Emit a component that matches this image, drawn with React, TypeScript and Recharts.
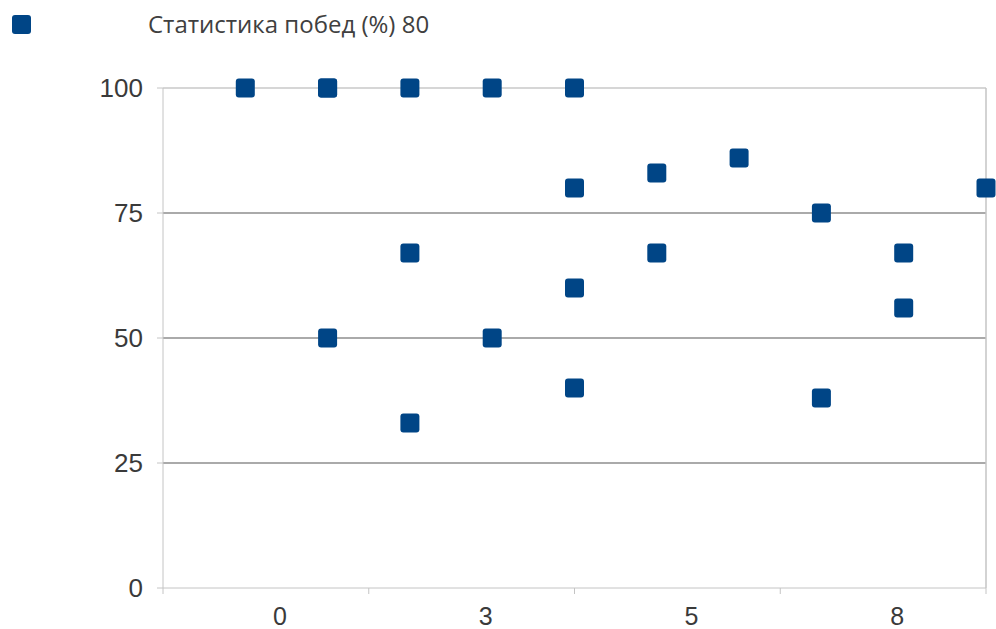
import React from 'react'
import {
  CartesianGrid,
  Legend,
  ReferenceLine,
  Scatter,
  ScatterChart,
  XAxis,
  YAxis
} from 'recharts'

const seriesName = 'Статистика побед (%) 80'

// x position of every point (match number) and its win rate
const xValues = [1, 2, 2, 2, 3, 3, 3, 4, 4, 5, 5, 5, 5, 6, 6, 7, 8, 8, 9, 9, 10]
const yValues = [100, 100, 100, 50, 100, 67, 33, 100, 50, 100, 80, 60, 40, 83, 67, 86, 75, 38, 67, 56, 80]

const xTicks = [0, 2.5, 5, 7.5, 10]
const yTicks = [0, 25, 50, 75, 100]

const points = xValues.map((x, i) => ({ x, y: yValues[i] }))

const color = '#004586'

const SquareDot = (props: any) => {
  const { cx, cy } = props
  return <rect x={cx - 9.5} y={cy - 9.5} width={19} height={19} rx={3} fill={color} />
}

const XTick = (props: any) => {
  const { x, y, payload } = props
  if (payload.value === 10) return null
  return (
    <text
      x={x + 117}
      y={y + 29}
      textAnchor='middle'
      fill='#3a3a3a'
      fontSize={25}
      fontFamily='Liberation Sans, Arial, sans-serif'>
      {Math.round(payload.value)}
    </text>
  )
}

const LegendContent = () => (
  <div style={{ position: 'relative', height: 40 }}>
    <div
      style={{
        position: 'absolute',
        left: 12,
        top: 15,
        width: 19,
        height: 19,
        borderRadius: 3,
        background: color
      }}
    />
    <span
      style={{
        position: 'absolute',
        left: 148,
        top: 8,
        fontFamily: 'Open Sans, sans-serif',
        fontSize: 24,
        lineHeight: '32px',
        color: '#404040',
        whiteSpace: 'nowrap'
      }}>
      {seriesName}
    </span>
  </div>
)

const App = () => {
  return (
    <div style={{ position: 'absolute', left: 0, top: 0 }}>
      <ScatterChart
        width={996}
        height={629}
        margin={{ top: 48, right: 10, bottom: 0, left: 0 }}>
        <CartesianGrid
          vertical={false}
          horizontalValues={[25, 50, 75]}
          stroke='#aaaaaa'
          strokeWidth={2}
        />
        <ReferenceLine y={100} stroke='#d6d6d6' strokeWidth={2} />
        <ReferenceLine x={10} stroke='#c4c4c4' strokeWidth={1.5} />
        <XAxis
          type='number'
          dataKey='x'
          domain={[0, 10]}
          ticks={xTicks}
          height={41}
          stroke='#c4c4c4'
          tickSize={6}
          tick={<XTick />}
        />
        <YAxis
          type='number'
          dataKey='y'
          domain={[0, 100]}
          ticks={yTicks}
          width={163}
          stroke='#c4c4c4'
          tickSize={6}
          tickMargin={14}
          tick={{
            fill: '#3a3a3a',
            fontSize: 26,
            fontFamily: 'Liberation Sans, Arial, sans-serif'
          }}
        />
        <Legend
          verticalAlign='top'
          align='left'
          content={<LegendContent />}
          wrapperStyle={{ top: 0, left: 0, width: 500 }}
        />
        <Scatter
          name={seriesName}
          data={points}
          fill={color}
          shape={<SquareDot />}
          isAnimationActive={false}
        />
      </ScatterChart>
    </div>
  )
}

export default App
